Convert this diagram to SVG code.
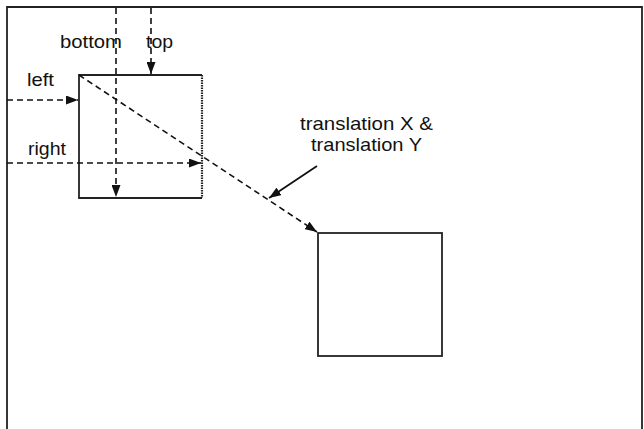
<svg xmlns="http://www.w3.org/2000/svg" width="644" height="429" viewBox="0 0 644 429">
<style>
.lbl{font-family:"Liberation Sans",Arial,sans-serif;font-size:18.5px;fill:#111}
.box{fill:none;stroke:#222;stroke-width:1.8}
.dash{fill:none;stroke:#111;stroke-width:1.6;stroke-dasharray:6,4}
.solid{fill:none;stroke:#111;stroke-width:1.8}
</style>
<defs>
<marker id="ah" viewBox="0 0 12 9" refX="12" refY="4.5" markerWidth="12" markerHeight="9" markerUnits="userSpaceOnUse" orient="auto">
<path d="M0,0 L12,4.5 L0,9 Z" fill="#111"/>
</marker>
</defs>
<rect width="644" height="429" fill="#fff"/>
<g id="frame">
<path d="M7,429 L7,7 L642,7 L642,429" class="box" stroke="#333"/>
</g>
<g id="source-box">
<path d="M202,75 L79,75 L79,198 L202,198" class="box"/>
<line x1="202" y1="75" x2="202" y2="198" stroke="#222" stroke-width="2.2" stroke-dasharray="1.5,1"/>
</g>
<g id="target-box">
<rect x="318" y="233" width="124" height="123" class="box"/>
</g>
<g id="connectors">
<line x1="7" y1="100" x2="78" y2="100" class="dash" marker-end="url(#ah)"/>
<line x1="7" y1="163" x2="201" y2="163" class="dash" marker-end="url(#ah)"/>
<line x1="151" y1="8" x2="151" y2="74" class="dash" marker-end="url(#ah)"/>
<line x1="116" y1="8" x2="116" y2="197" class="dash" marker-end="url(#ah)"/>
<line x1="79" y1="75" x2="317" y2="232" class="dash" marker-end="url(#ah)"/>
<line x1="317" y1="166" x2="269" y2="198" class="solid" marker-end="url(#ah)"/>
</g>
<g id="labels">
<text class="lbl" x="60" y="47.5" textLength="62" lengthAdjust="spacingAndGlyphs">bottom</text>
<text class="lbl" x="146" y="47.5" textLength="27" lengthAdjust="spacingAndGlyphs">top</text>
<text class="lbl" x="27" y="85.5" textLength="27" lengthAdjust="spacingAndGlyphs">left</text>
<text class="lbl" x="28" y="155" textLength="38" lengthAdjust="spacingAndGlyphs">right</text>
<text class="lbl" x="300" y="130" textLength="133" lengthAdjust="spacingAndGlyphs">translation X &amp;</text>
<text class="lbl" x="311" y="151" textLength="111" lengthAdjust="spacingAndGlyphs">translation Y</text>
</g>
</svg>
